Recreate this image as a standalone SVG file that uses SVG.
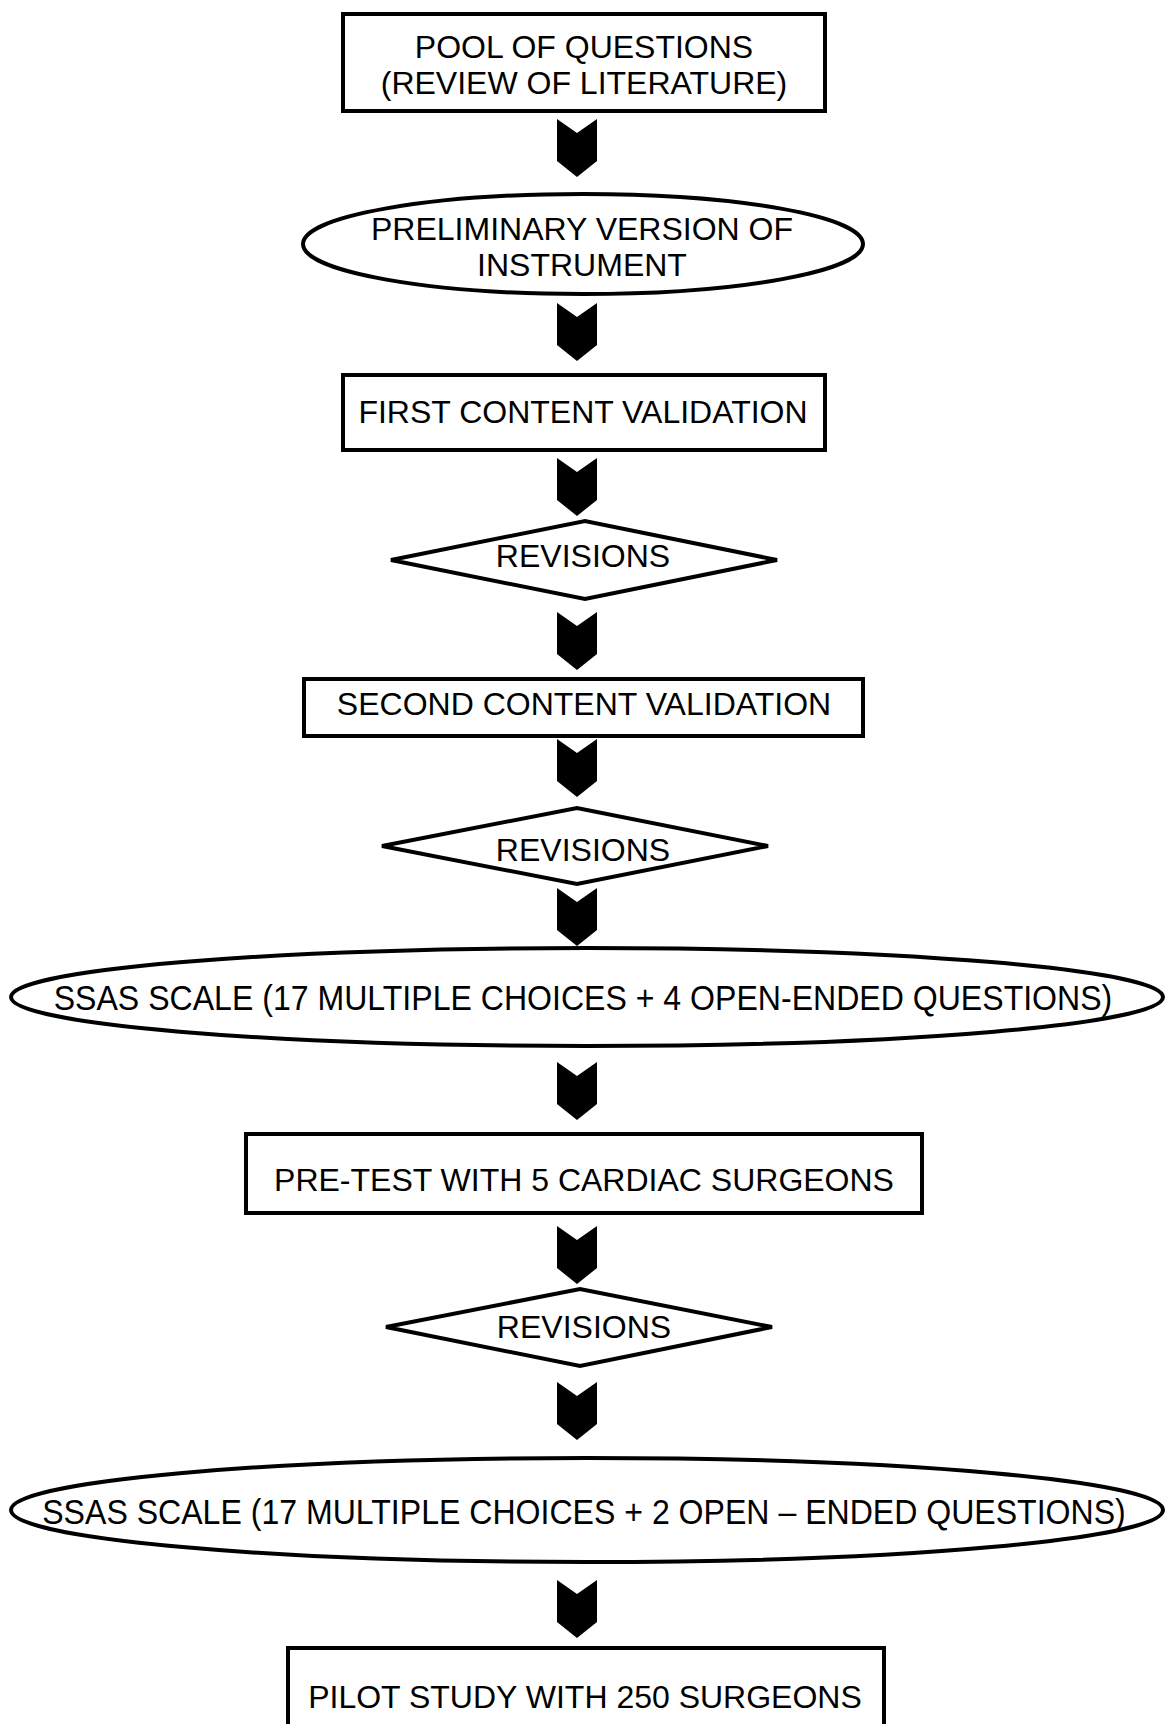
<svg xmlns="http://www.w3.org/2000/svg" xmlns:xlink="http://www.w3.org/1999/xlink" width="1165" height="1724" viewBox="0 0 1165 1724">
<style>
.shape{fill:#fff;stroke:#000;stroke-width:4}
.t{font-family:"Liberation Sans",Arial,sans-serif;font-size:32px;fill:#000;text-anchor:middle}
.tn{font-family:"Liberation Sans",Arial,sans-serif;font-size:36px;fill:#000;text-anchor:middle}
.arrow{fill:#000}
</style>
<defs>
<path id="chev" d="M-20,0 L0,14 L20,0 L20,42 L0,58 L-20,42 Z"/>
</defs>
<rect width="1165" height="1724" fill="#fff"/>
<g id="connectors" class="arrow">
<use xlink:href="#chev" x="577" y="119"/>
<use xlink:href="#chev" x="577" y="303"/>
<use xlink:href="#chev" x="577" y="458"/>
<use xlink:href="#chev" x="577" y="612"/>
<use xlink:href="#chev" x="577" y="739"/>
<use xlink:href="#chev" x="577" y="888"/>
<use xlink:href="#chev" x="577" y="1062"/>
<use xlink:href="#chev" x="577" y="1226"/>
<use xlink:href="#chev" x="577" y="1382"/>
<use xlink:href="#chev" x="577" y="1580"/>
</g>
<g id="n1">
<rect class="shape" x="343" y="14" width="482" height="97"/>
<text class="t" x="584" y="58">POOL OF QUESTIONS</text>
<text class="t" x="584" y="94">(REVIEW OF LITERATURE)</text>
</g>
<g id="n2">
<ellipse class="shape" cx="583" cy="244" rx="280" ry="50"/>
<text class="t" x="582" y="240">PRELIMINARY VERSION OF</text>
<text class="t" x="582" y="276">INSTRUMENT</text>
</g>
<g id="n3">
<rect class="shape" x="343" y="375" width="482" height="75"/>
<text class="t" x="583" y="423">FIRST CONTENT VALIDATION</text>
</g>
<g id="n4">
<polygon class="shape" points="391,560 585,521 777,560 585,599"/>
<text class="t" x="583" y="567">REVISIONS</text>
</g>
<g id="n5">
<rect class="shape" x="304" y="679" width="559" height="57"/>
<text class="t" x="584" y="715">SECOND CONTENT VALIDATION</text>
</g>
<g id="n6">
<polygon class="shape" points="382,846 577,808 768,846 577,884"/>
<text class="t" x="583" y="861">REVISIONS</text>
</g>
<g id="n7">
<ellipse class="shape" cx="587" cy="997" rx="576" ry="49"/>
<text class="tn" transform="translate(583 1010) scale(0.891 1)" x="0" y="0">SSAS SCALE (17 MULTIPLE CHOICES + 4 OPEN-ENDED QUESTIONS)</text>
</g>
<g id="n8">
<rect class="shape" x="246" y="1134" width="676" height="79"/>
<text class="t" x="584" y="1191">PRE-TEST WITH 5 CARDIAC SURGEONS</text>
</g>
<g id="n9">
<polygon class="shape" points="386,1327 580,1289 772,1327 580,1366"/>
<text class="t" x="584" y="1338">REVISIONS</text>
</g>
<g id="n10">
<ellipse class="shape" cx="587" cy="1510" rx="576" ry="52"/>
<text class="tn" transform="translate(584 1524) scale(0.891 1)" x="0" y="0">SSAS SCALE (17 MULTIPLE CHOICES + 2 OPEN – ENDED QUESTIONS)</text>
</g>
<g id="n11">
<rect class="shape" x="288" y="1648" width="596" height="100"/>
<text class="t" x="585" y="1708">PILOT STUDY WITH 250 SURGEONS</text>
</g>
</svg>
